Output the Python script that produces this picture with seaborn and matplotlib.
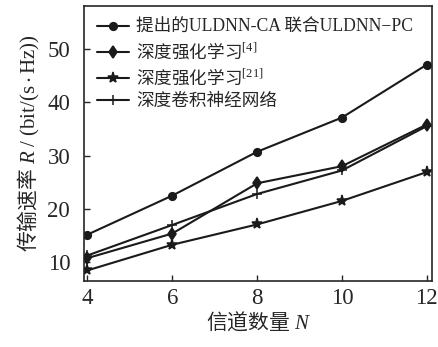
import pandas as pd
import matplotlib
matplotlib.use("Agg")
import matplotlib.pyplot as plt
import seaborn as sns

# data
channels = [4, 6, 8, 10, 12]
rate_proposed = [15.2, 22.5, 30.7, 37.1, 47.0]
rate_drl4 = [10.8, 15.4, 24.8, 28.0, 35.8]
rate_drl21 = [8.5, 13.3, 17.1, 21.5, 26.9]
rate_dcnn = [11.3, 17.0, 22.8, 27.2, 35.5]
names = ["提出的ULDNN-CA 联合ULDNN−PC", "深度强化学习$^{[4]}$",
         "深度强化学习$^{[21]}$", "深度卷积神经网络"]

sns.set_style("ticks")
plt.rcParams["font.family"] = ["Liberation Serif", "Noto Sans CJK SC"]
plt.rcParams["mathtext.fontset"] = "custom"
plt.rcParams["mathtext.rm"] = "Liberation Serif"
plt.rcParams["mathtext.it"] = "Liberation Serif:italic"
plt.rcParams["mathtext.fallback"] = "stix"
CJK = "Noto Sans CJK SC"

df = pd.DataFrame({
    "N": channels * 4,
    "R": rate_proposed + rate_drl4 + rate_drl21 + rate_dcnn,
    "method": [n for n in names for _ in channels],
})

fig = plt.figure(figsize=(4.38, 3.47), dpi=100)
ax = fig.add_axes([0.192, 0.19, 0.794, 0.793])
markers = {names[0]: "o", names[1]: "d", names[2]: "*", names[3]: "+"}
sizes = {names[0]: 5.5, names[1]: 6.5, names[2]: 8, names[3]: 6.5}
for n in names:
    sub = df[df["method"] == n]
    sns.lineplot(data=sub, x="N", y="R", ax=ax, color="#1a1a1a", lw=1.5,
                 marker=markers[n], markersize=sizes[n], markeredgewidth=1.1,
                 markeredgecolor="#1a1a1a", label=n)

ax.set_xlim(3.92, 12.12)
ax.set_ylim(6.5, 58)
ax.set_xticks(channels)
ax.set_yticks([10, 20, 30, 40, 50])
ax.tick_params(direction="in", labelsize=16.5, length=4, width=1)
ax.tick_params(axis="x", pad=5)
ax.tick_params(axis="y", pad=10)
for s in ax.spines.values():
    s.set_linewidth(1.2)
ax.set_xlabel("信道数量 $N$", fontsize=15, labelpad=1, family=CJK)
ax.set_ylabel(r"传输速率 $R\mathrm{\ /\ (bit/(s\cdot Hz))}$", fontsize=15,
              labelpad=4, family=CJK)
leg = ax.legend(loc="upper left", frameon=False, fontsize=12.7,
                handlelength=1.8, borderaxespad=0.35, labelspacing=0.3,
                handletextpad=0.4)
for t in leg.get_texts()[1:3]:
    t.set_family(CJK)

fig.savefig("out.png", dpi=100)
